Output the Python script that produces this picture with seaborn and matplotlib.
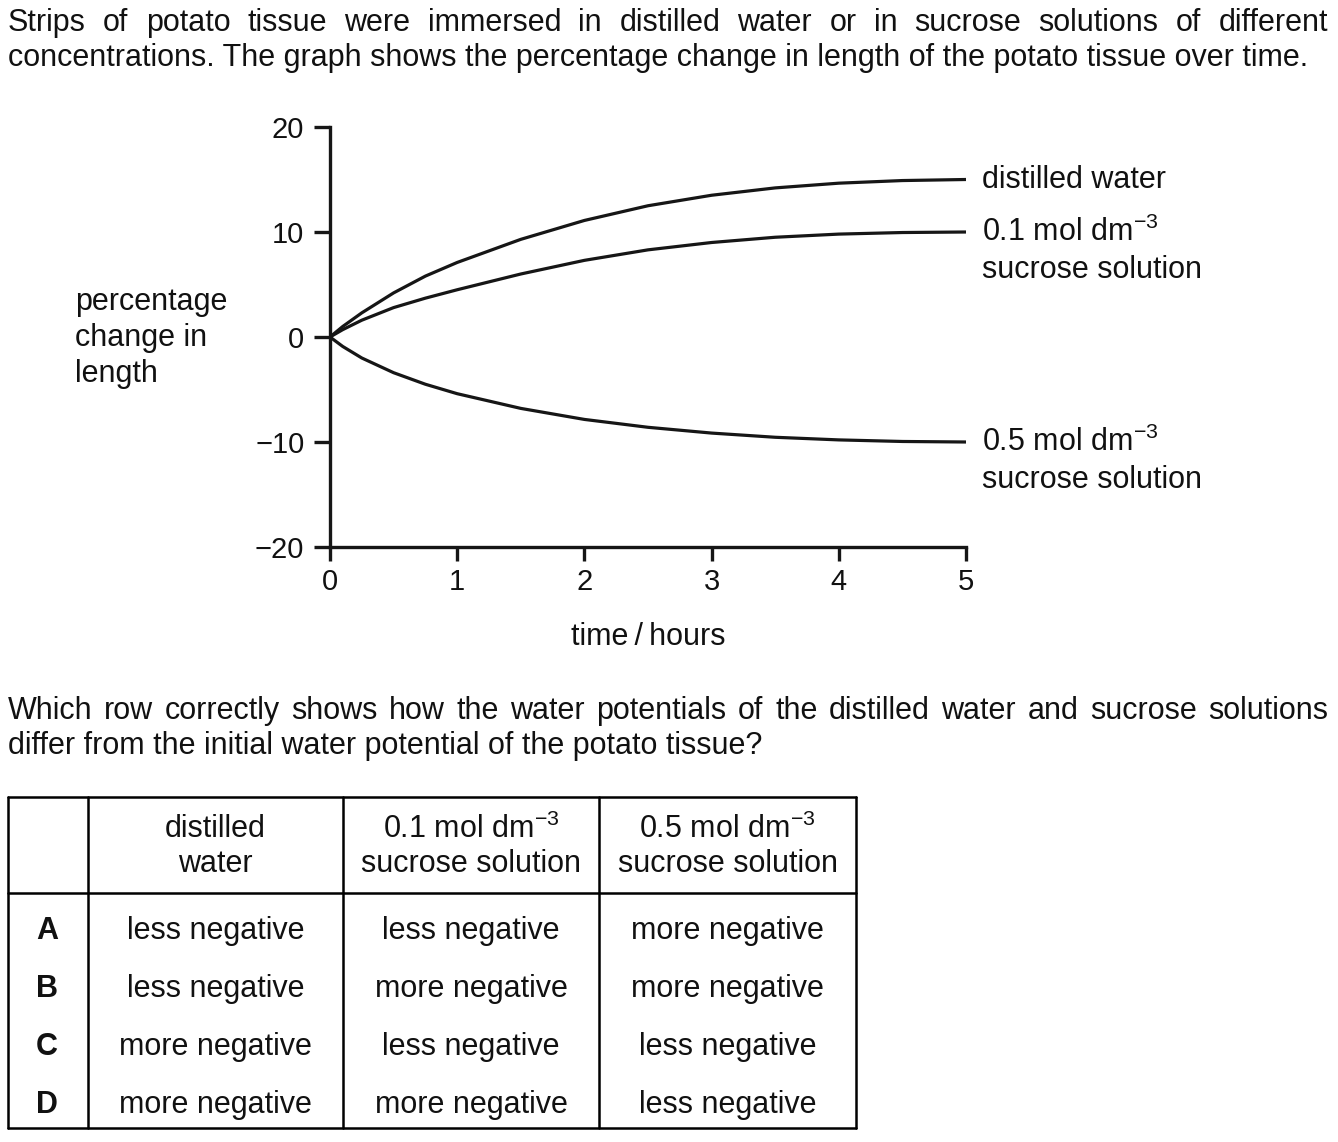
import pandas as pd
import matplotlib
matplotlib.use('Agg')
import matplotlib.pyplot as plt
import seaborn as sns

# values
time_h = [0, 0.1, 0.25, 0.5, 0.75, 1, 1.5, 2, 2.5, 3, 3.5, 4, 4.5, 5]
distilled = [0, 1.0, 2.3, 4.2, 5.8, 7.1, 9.3, 11.1, 12.5, 13.5, 14.2, 14.65, 14.9, 15.0]
sucrose_01 = [0, 0.7, 1.6, 2.8, 3.7, 4.5, 6.0, 7.3, 8.3, 9.0, 9.5, 9.8, 9.95, 10.0]
sucrose_05 = [0, -0.9, -2.0, -3.4, -4.5, -5.4, -6.8, -7.85, -8.6, -9.15, -9.55, -9.8, -9.95, -10.0]

y_ticks = [-20, -10, 0, 10, 20]
x_ticks = [0, 1, 2, 3, 4, 5]

row_letters = ['A', 'B', 'C', 'D']
col_distilled = ['less negative', 'less negative', 'more negative', 'more negative']
col_01 = ['less negative', 'more negative', 'less negative', 'more negative']
col_05 = ['more negative', 'more negative', 'less negative', 'less negative']

sns.set_style('ticks')
plt.rcParams['font.family'] = ['Liberation Sans', 'DejaVu Sans']
plt.rcParams['mathtext.fontset'] = 'custom'
plt.rcParams['mathtext.rm'] = 'Liberation Sans'
plt.rcParams['mathtext.default'] = 'regular'
plt.rcParams['text.color'] = '#111111'
plt.rcParams['xtick.labelcolor'] = '#111111'
plt.rcParams['ytick.labelcolor'] = '#111111'

W, H = 1338, 1142
FS = 22
INK = '#161616'
fig = plt.figure(figsize=(W / 100, H / 100), dpi=100)


def fx(px):
    return px / W


def fy(py):
    return 1 - py / H


# ---- graph ----
ax = fig.add_axes([fx(330), fy(547), fx(966) - fx(330), fy(127) - fy(547)])
df = pd.DataFrame({'time': time_h * 3,
                   'change': distilled + sucrose_01 + sucrose_05,
                   'series': ['distilled'] * len(time_h) + ['0.1'] * len(time_h) + ['0.5'] * len(time_h)})
sns.lineplot(data=df, x='time', y='change', units='series', estimator=None,
             color=INK, linewidth=2.3, ax=ax, legend=False,
             solid_joinstyle='round', solid_capstyle='butt')
ax.set_xlim(0, 5)
ax.set_ylim(-20, 20)
ax.set_xticks(x_ticks)
ax.set_yticks(y_ticks)
ax.set_yticklabels([str(v).replace('-', '\u2212') for v in y_ticks])
ax.set_xlabel('')
ax.set_ylabel('')
sns.despine(ax=ax)
for s in ['left', 'bottom']:
    ax.spines[s].set_linewidth(2.4)
    ax.spines[s].set_color(INK)
ax.tick_params(axis='y', length=11.5, width=2.4, pad=7, labelsize=FS - 1, color=INK)
ax.tick_params(axis='x', length=10, width=2.4, pad=5, labelsize=FS - 1, color=INK)

# curve labels
end_labels = [(distilled[-1], ['distilled water']),
              (sucrose_01[-1], ['0.1 mol dm$^{\u22123}$', 'sucrose solution']),
              (sucrose_05[-1], ['0.5 mol dm$^{\u22123}$', 'sucrose solution'])]
for yv, lines in end_labels:
    for i, line in enumerate(lines):
        ax.annotate(line, xy=(time_h[-1], yv), xytext=(11.5, -27 * i),
                    textcoords='offset points', va='center', ha='left',
                    fontsize=FS, annotation_clip=False)

fig.text(fx(75), fy(310), 'percentage', fontsize=FS, va='baseline')
fig.text(fx(75), fy(346), 'change in', fontsize=FS, va='baseline')
fig.text(fx(75), fy(382), 'length', fontsize=FS, va='baseline')
fig.text(fx(648), fy(645), 'time\u2009/\u2009hours', fontsize=FS, va='baseline', ha='center')

# ---- paragraph text ----
renderer = fig.canvas.get_renderer()


def justified(line, x0, x1, base):
    words = line.split(' ')
    widths = []
    for w in words:
        t = fig.text(0, 0, w, fontsize=FS)
        widths.append(t.get_window_extent(renderer).width)
        t.remove()
    gap = (x1 - x0 - sum(widths)) / (len(words) - 1)
    x = x0
    for w, wd in zip(words, widths):
        fig.text(fx(x), fy(base), w, fontsize=FS, va='baseline', ha='left')
        x += wd + gap


justified('Strips of potato tissue were immersed in distilled water or in sucrose solutions of different', 8, 1328, 31)
fig.text(fx(8), fy(66), 'concentrations. The graph shows the percentage change in length of the potato tissue over time.',
         fontsize=FS, va='baseline')
justified('Which row correctly shows how the water potentials of the distilled water and sucrose solutions', 8, 1328, 719)
fig.text(fx(8), fy(754), 'differ from the initial water potential of the potato tissue?',
         fontsize=FS, va='baseline')

# ---- answer table ----
lw = 1.8
left, right, top, bottom = 8, 856, 797, 1128
col_x = [88, 343, 599]
for xx in [left, right] + col_x:
    fig.add_artist(plt.Line2D([fx(xx), fx(xx)], [fy(top), fy(bottom)], color='black', lw=lw))
for yy in [top, 893, bottom]:
    fig.add_artist(plt.Line2D([fx(left), fx(right)], [fy(yy), fy(yy)], color='black', lw=lw))

centers = [(88 + 343) / 2, (343 + 599) / 2, (599 + 856) / 2]
headers = [('distilled', 'water'),
           ('0.1 mol dm$^{\u22123}$', 'sucrose solution'),
           ('0.5 mol dm$^{\u22123}$', 'sucrose solution')]
for cx, (l1, l2) in zip(centers, headers):
    fig.text(fx(cx), fy(829), l1, fontsize=FS, ha='center', va='center')
    fig.text(fx(cx), fy(864), l2, fontsize=FS, ha='center', va='center')

row_y = [931, 989, 1047, 1105]
for i, ry in enumerate(row_y):
    fig.text(fx(47), fy(ry), row_letters[i], fontsize=FS, ha='center', va='center', fontweight='bold')
    for cx, col in zip(centers, [col_distilled, col_01, col_05]):
        fig.text(fx(cx), fy(ry), col[i], fontsize=FS, ha='center', va='center')

fig.savefig('out.png', dpi=100)
